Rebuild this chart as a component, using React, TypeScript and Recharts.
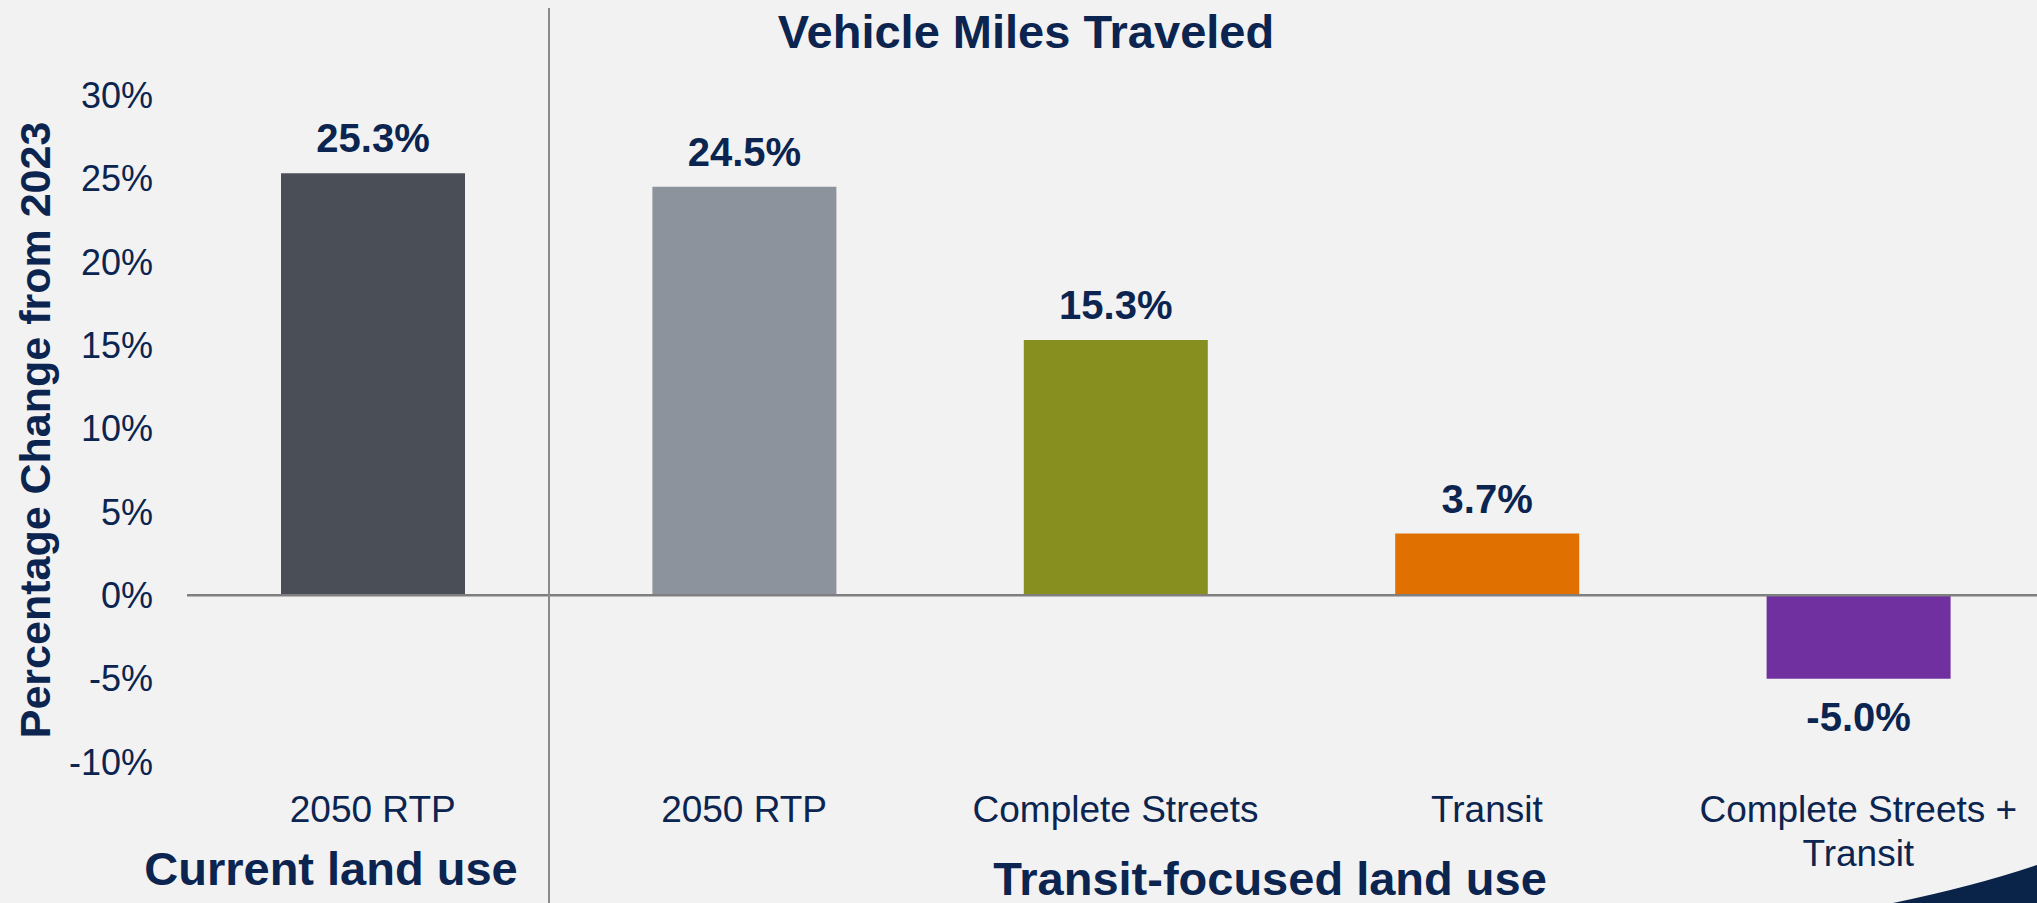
import { BarChart, Bar, XAxis, YAxis, Cell, LabelList, ReferenceLine } from 'recharts';

const categories = ['2050 RTP', '2050 RTP', 'Complete Streets', 'Transit', 'Complete Streets +\nTransit'];
const vmtChange = [25.3, 24.5, 15.3, 3.7, -5.0];
const yTicks = [-10, -5, 0, 5, 10, 15, 20, 25, 30];
const barColors = ['#4a4e56', '#8c939c', '#878f1e', '#e07000', '#7030a0'];

const data = categories.map((name, i) => ({ name, value: vmtChange[i] }));

const NAVY = '#0b2550';
const FONT = '"Liberation Sans", Arial, sans-serif';

const CategoryTick = ({ x, y, payload }: any) => {
  const lines = String(payload.value).split('\n');
  return (
    <text x={x} y={y + 60} textAnchor="middle" fill={NAVY} fontSize={37} fontFamily={FONT}>
      {lines.map((l, i) => (
        <tspan key={i} x={x} dy={i === 0 ? 0 : 44}>{l}</tspan>
      ))}
    </text>
  );
};

const ValueLabel = ({ x, y, width, height, value }: any) => {
  const top = Math.min(y, y + height);
  const bottom = Math.max(y, y + height);
  const cx = x + width / 2;
  const ty = value >= 0 ? top - 21 : bottom + 52;
  return (
    <text x={cx} y={ty} textAnchor="middle" fill={NAVY} fontSize={40} fontWeight="bold" fontFamily={FONT}>
      {value.toFixed(1)}%
    </text>
  );
};

export default function App() {
  return (
    <div style={{ position: 'absolute', left: 0, top: 0, width: 2037, height: 903, overflow: 'hidden', background: '#f2f2f2', fontFamily: FONT }}>
      <BarChart width={2044} height={903} data={data} margin={{ top: 95, right: 0, bottom: 0, left: 0 }} barSize={184}>
        <XAxis dataKey="name" axisLine={false} tickLine={false} tickSize={0} tickMargin={0} height={141} interval={0} tick={<CategoryTick />} />
        <YAxis
          domain={[-10, 30]}
          ticks={yTicks}
          width={187}
          axisLine={false}
          tickLine={false}
          tickSize={6}
          tickMargin={28}
          tickFormatter={(v: number) => `${v}%`}
          tick={{ fill: NAVY, fontSize: 36, fontFamily: FONT }}
        />
        <ReferenceLine y={0} stroke="#7f7f7f" strokeWidth={2.5} />
        <Bar dataKey="value" isAnimationActive={false}>
          {data.map((_, i) => (
            <Cell key={i} fill={barColors[i]} />
          ))}
          <LabelList dataKey="value" content={<ValueLabel />} />
        </Bar>
      </BarChart>
      <svg width={2037} height={903} style={{ position: 'absolute', left: 0, top: 0, pointerEvents: 'none' }}>
        <line x1={549} y1={8} x2={549} y2={903} stroke="#8a8a8a" strokeWidth={2} />
        <text x={1026} y={48} textAnchor="middle" fill={NAVY} fontSize={47} fontWeight="bold" fontFamily={FONT}>Vehicle Miles Traveled</text>
        <text x={50} y={430} transform="rotate(-90 50 430)" textAnchor="middle" fill={NAVY} fontSize={43} fontWeight="bold" fontFamily={FONT}>Percentage Change from 2023</text>
        <text x={331} y={885} textAnchor="middle" fill={NAVY} fontSize={47} fontWeight="bold" fontFamily={FONT}>Current land use</text>
        <text x={1270} y={895} textAnchor="middle" fill={NAVY} fontSize={47} fontWeight="bold" fontFamily={FONT}>Transit-focused land use</text>
        <path d="M1893,903 Q1975,886 2037,865 L2037,903 Z" fill="#0a2349" />
      </svg>
    </div>
  );
}
